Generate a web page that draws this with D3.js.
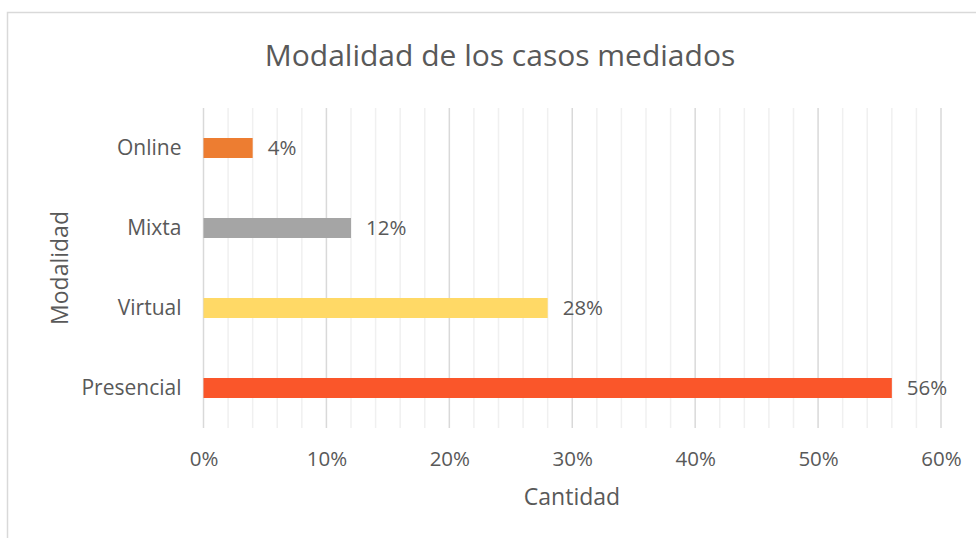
<!DOCTYPE html>
<html>
<head>
<meta charset="utf-8">
<script src="https://cdn.jsdelivr.net/npm/d3@7"></script>
<style>
  html, body { margin: 0; padding: 0; background: #fff; }
  svg { display: block; }
</style>
</head>
<body>
<div id="chart"></div>
<script>
// Datos del gráfico
const categorias = ["Online", "Mixta", "Virtual", "Presencial"];
const valores = [0.04, 0.12, 0.28, 0.56];
const colores = ["#ED7D31", "#A5A5A5", "#FFD966", "#FA562A"];
const ticksX = [0, 0.1, 0.2, 0.3, 0.4, 0.5, 0.6];

const width = 976,
  height = 538;
const margin = { top: 108, right: 35, bottom: 110, left: 203.5 };
const font = "'Open Sans', 'Noto Sans', sans-serif";
const textColor = "#595959";

const svg = d3
  .select("#chart")
  .append("svg")
  .attr("width", width)
  .attr("height", height);

// Marco del gráfico
svg
  .append("rect")
  .attr("x", 7.5)
  .attr("y", 12.5)
  .attr("width", width + 10)
  .attr("height", height + 10)
  .attr("fill", "white")
  .attr("stroke", "#d9d9d9")
  .attr("stroke-width", 1.5);

const x = d3
  .scaleLinear()
  .domain([0, 0.6])
  .range([margin.left, width - margin.right]);

const y = d3
  .scaleBand()
  .domain(categorias)
  .range([margin.top, height - margin.bottom])
  .paddingInner(0.75)
  .paddingOuter(0.375);

// Líneas de cuadrícula menores (cada 2%)
const menores = d3.range(0, 31).map((i) => i * 0.02).filter((v) => Math.round(v * 100) % 10 !== 0);
svg
  .append("g")
  .selectAll("line")
  .data(menores)
  .enter()
  .append("line")
  .attr("x1", (d) => x(d))
  .attr("x2", (d) => x(d))
  .attr("y1", margin.top)
  .attr("y2", height - margin.bottom)
  .attr("stroke", "#f0f0f0")
  .attr("stroke-width", 1.5);

// Líneas de cuadrícula mayores
svg
  .append("g")
  .selectAll("line")
  .data(ticksX)
  .enter()
  .append("line")
  .attr("x1", (d) => x(d))
  .attr("x2", (d) => x(d))
  .attr("y1", margin.top)
  .attr("y2", height - margin.bottom)
  .attr("stroke", "#d9d9d9")
  .attr("stroke-width", 1.5);

// Eje X
const ejeX = svg
  .append("g")
  .attr("transform", `translate(0,${height - margin.bottom})`)
  .call(
    d3
      .axisBottom(x)
      .tickValues(ticksX)
      .tickFormat(d3.format(".0%"))
      .tickSize(0)
      .tickPadding(23)
  );
ejeX.select(".domain").remove();
ejeX
  .selectAll("text")
  .style("font-family", font)
  .style("font-size", "20.5px")
  .attr("fill", textColor);

// Eje Y
const ejeY = svg
  .append("g")
  .attr("transform", `translate(${margin.left},0)`)
  .call(d3.axisLeft(y).tickSize(0).tickPadding(22));
ejeY.select(".domain").remove();
ejeY
  .selectAll("text")
  .style("font-family", font)
  .style("font-size", "21px")
  .attr("fill", textColor);

// Barras
svg
  .append("g")
  .selectAll("rect")
  .data(categorias)
  .enter()
  .append("rect")
  .attr("x", x(0))
  .attr("y", (d) => y(d))
  .attr("width", (d, i) => x(valores[i]) - x(0))
  .attr("height", y.bandwidth())
  .attr("fill", (d, i) => colores[i]);

// Etiquetas de valores
svg
  .append("g")
  .selectAll("text")
  .data(categorias)
  .enter()
  .append("text")
  .attr("x", (d, i) => x(valores[i]) + 15)
  .attr("y", (d) => y(d) + y.bandwidth() / 2)
  .attr("dy", "0.35em")
  .style("font-family", font)
  .style("font-size", "20.5px")
  .attr("fill", textColor)
  .text((d, i) => d3.format(".0%")(valores[i]));

// Título
svg
  .append("text")
  .attr("x", 500)
  .attr("y", 55)
  .attr("dy", "0.35em")
  .attr("text-anchor", "middle")
  .style("font-family", font)
  .style("font-size", "30px")
  .attr("fill", textColor)
  .text("Modalidad de los casos mediados");

// Títulos de ejes
svg
  .append("text")
  .attr("x", 572)
  .attr("y", 497)
  .attr("dy", "0.35em")
  .attr("text-anchor", "middle")
  .style("font-family", font)
  .style("font-size", "23px")
  .attr("fill", textColor)
  .text("Cantidad");

svg
  .append("text")
  .attr("transform", "translate(60,268) rotate(-90)")
  .attr("dy", "0.35em")
  .attr("text-anchor", "middle")
  .style("font-family", font)
  .style("font-size", "23px")
  .attr("fill", textColor)
  .text("Modalidad");
</script>
</body>
</html>
